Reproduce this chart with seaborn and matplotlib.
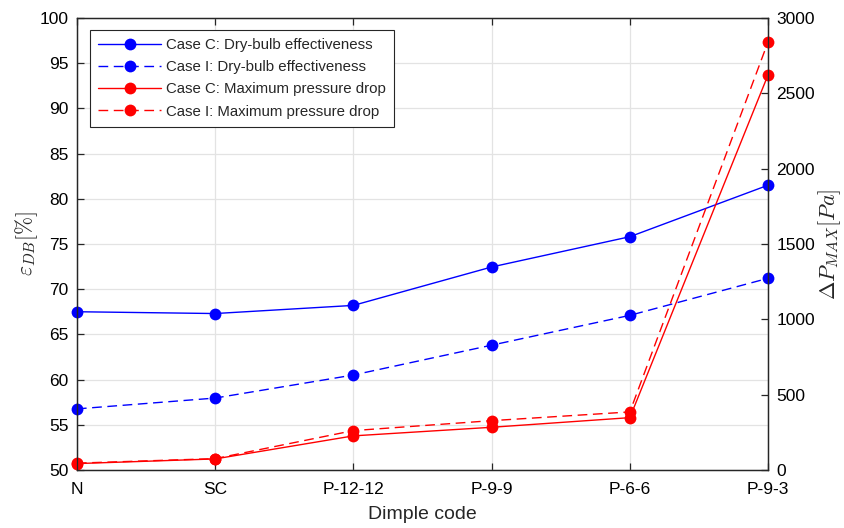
import pandas as pd
import matplotlib
matplotlib.use("Agg")
import matplotlib.pyplot as plt
import seaborn as sns

# data
codes = ["N", "SC", "P-12-12", "P-9-9", "P-6-6", "P-9-3"]
eff_case_c = [67.5, 67.3, 68.2, 72.45, 75.8, 81.5]
eff_case_i = [56.75, 57.95, 60.5, 63.8, 67.1, 71.2]
dp_case_c = [42, 73, 226, 283, 347, 2623]
dp_case_i = [45, 75, 261, 327, 385, 2842]

sns.set_theme(style="ticks")
plt.rcParams["font.family"] = ["Liberation Sans", "DejaVu Sans"]
plt.rcParams["mathtext.fontset"] = "cm"

df = pd.DataFrame({
    "code": codes,
    "eff_c": eff_case_c,
    "eff_i": eff_case_i,
    "dp_c": dp_case_c,
    "dp_i": dp_case_i,
})

fig, ax = plt.subplots(figsize=(8.45, 5.28), dpi=100)
fig.subplots_adjust(left=0.091, right=0.909, top=0.966, bottom=0.110)
ax2 = ax.twinx()

dash = (0, (7, 4))
style = dict(marker="o", markersize=8.5, markeredgewidth=0, linewidth=1.0, clip_on=False)

sns.lineplot(data=df, x="code", y="eff_c", ax=ax, color="blue", linestyle="-",
             label="Case C: Dry-bulb effectiveness", sort=False, **style)
sns.lineplot(data=df, x="code", y="eff_i", ax=ax, color="blue", linestyle=dash,
             label="Case I: Dry-bulb effectiveness", sort=False, **style)
sns.lineplot(data=df, x="code", y="dp_c", ax=ax2, color="red", linestyle="-",
             label="Case C: Maximum pressure drop", sort=False, **style)
sns.lineplot(data=df, x="code", y="dp_i", ax=ax2, color="red", linestyle=dash,
             label="Case I: Maximum pressure drop", sort=False, **style)

ax.set_xlim(0, 5)
ax.set_ylim(50, 100)
ax.set_yticks(range(50, 101, 5))
ax2.set_ylim(0, 3000)
ax2.set_yticks(range(0, 3001, 500))

ax.grid(True, color="#e3e3e3", linewidth=0.9)
ax.set_axisbelow(True)

for a in (ax, ax2):
    for s in a.spines.values():
        s.set_color("#262626")
        s.set_linewidth(0.9)
    a.tick_params(direction="in", length=5, width=0.9, labelsize=12.5, colors="#262626",
                  labelcolor="black", pad=6)
ax.tick_params(axis="x", top=True, pad=9)

ax.set_xlabel("Dimple code", fontsize=14, labelpad=6)
ax.set_ylabel(r"$\varepsilon_{DB}[\%]$", fontsize=15.5, labelpad=0)
ax2.set_ylabel(r"$\Delta P_{MAX}[Pa]$", fontsize=16, labelpad=1)

h1, l1 = ax.get_legend_handles_labels()
h2, l2 = ax2.get_legend_handles_labels()
ax.get_legend().remove()
leg = ax2.legend(h1 + h2, l1 + l2, loc="upper left", bbox_to_anchor=(0.019, 0.974),
                 borderaxespad=0, fontsize=10.8, frameon=True, fancybox=False,
                 edgecolor="#262626", framealpha=1, handlelength=4.2, borderpad=0.55,
                 labelspacing=0.55, handletextpad=0.3)
leg.get_frame().set_linewidth(0.8)

fig.savefig("out.png", dpi=100)
